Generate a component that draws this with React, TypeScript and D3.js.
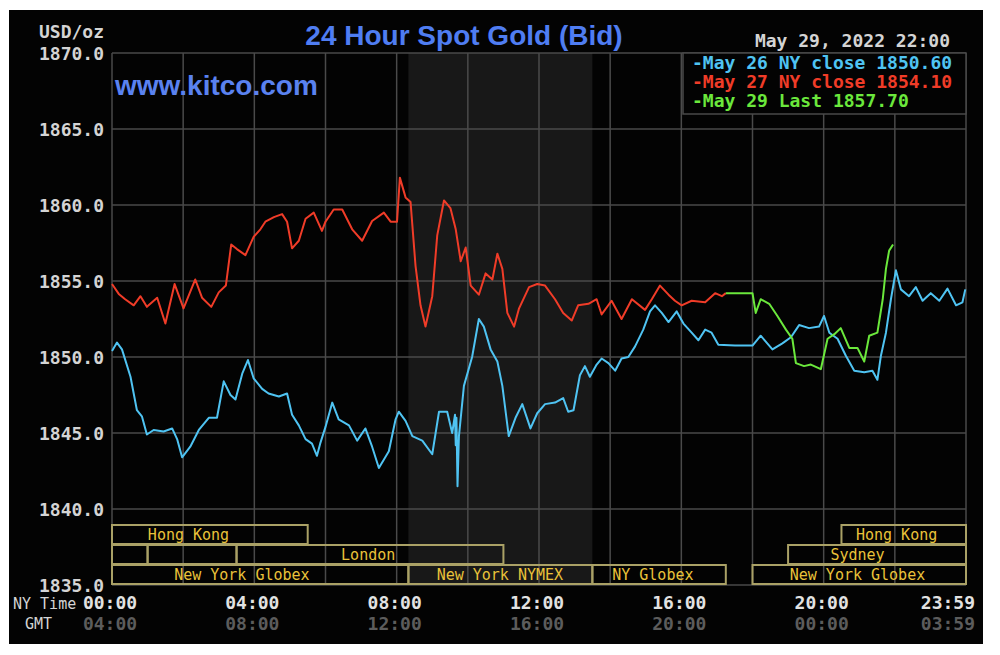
import * as d3 from "d3";

// hour of NY day, bid price
const may26Close: [number, number][] = [
  [0, 1850.4], [0.14, 1850.95], [0.28, 1850.5], [0.52, 1848.7], [0.7, 1846.5], [0.84, 1846.1],
  [0.98, 1844.9], [1.17, 1845.2], [1.45, 1845.1], [1.69, 1845.3], [1.83, 1844.6], [1.97, 1843.4],
  [2.2, 1844.1], [2.44, 1845.2], [2.72, 1846.0], [2.95, 1846.0], [3.14, 1848.4], [3.33, 1847.5],
  [3.47, 1847.2], [3.66, 1848.9], [3.82, 1849.8], [3.98, 1848.6], [4.22, 1847.9], [4.4, 1847.6],
  [4.69, 1847.4], [4.92, 1847.6], [5.06, 1846.2], [5.25, 1845.5], [5.44, 1844.6], [5.62, 1844.3],
  [5.76, 1843.5], [5.85, 1844.3], [6.0, 1845.4], [6.19, 1847.0], [6.37, 1845.9], [6.66, 1845.5],
  [6.89, 1844.5], [7.12, 1845.3], [7.31, 1844.1], [7.5, 1842.7], [7.78, 1843.8], [7.97, 1845.9],
  [8.06, 1846.4], [8.25, 1845.8], [8.44, 1844.8], [8.72, 1844.5], [9.0, 1843.6], [9.19, 1846.4],
  [9.42, 1846.4], [9.56, 1845.0], [9.64, 1846.2], [9.66, 1844.2], [9.68, 1846.0], [9.71, 1841.5],
  [9.75, 1844.8], [9.89, 1848.1], [10.12, 1850.0], [10.31, 1852.5], [10.45, 1852.0], [10.64, 1850.5],
  [10.83, 1849.7], [10.97, 1848.1], [11.15, 1844.8], [11.34, 1846.0], [11.53, 1846.9], [11.76, 1845.3],
  [11.95, 1846.3], [12.17, 1846.9], [12.45, 1847.0], [12.68, 1847.3], [12.82, 1846.4], [12.97, 1846.5],
  [13.15, 1848.8], [13.29, 1849.4], [13.43, 1848.7], [13.62, 1849.5], [13.76, 1849.9], [13.95, 1849.6],
  [14.14, 1849.1], [14.32, 1849.9], [14.51, 1850.0], [14.7, 1850.7], [14.93, 1851.8], [15.12, 1853.0],
  [15.26, 1853.4], [15.45, 1852.9], [15.64, 1852.3], [15.87, 1853.0], [16.06, 1852.2], [16.29, 1851.6],
  [16.48, 1851.1], [16.67, 1851.8], [16.85, 1851.6], [17.04, 1850.8], [17.51, 1850.75], [18.0, 1850.75],
  [18.23, 1851.4], [18.56, 1850.5], [18.84, 1850.9], [19.08, 1851.3], [19.31, 1852.1], [19.59, 1851.9],
  [19.87, 1852.0], [20.01, 1852.7], [20.16, 1851.6], [20.39, 1851.2], [20.62, 1850.1], [20.86, 1849.1],
  [21.14, 1849.0], [21.37, 1849.1], [21.51, 1848.5], [21.61, 1850.1], [21.75, 1851.6], [21.89, 1853.8],
  [22.03, 1855.7], [22.17, 1854.45], [22.4, 1854.0], [22.59, 1854.6], [22.78, 1853.7], [23.01, 1854.2],
  [23.25, 1853.7], [23.48, 1854.5], [23.72, 1853.4], [23.9, 1853.6], [23.98, 1854.45],
];

const may27Close: [number, number][] = [
  [0, 1854.8], [0.19, 1854.15], [0.37, 1853.8], [0.61, 1853.4], [0.8, 1854.0], [0.98, 1853.3],
  [1.27, 1853.9], [1.5, 1852.2], [1.76, 1854.8], [2.01, 1853.2], [2.34, 1855.1], [2.53, 1853.9],
  [2.79, 1853.3], [3.0, 1854.25], [3.2, 1854.7], [3.35, 1857.4], [3.51, 1857.1], [3.75, 1856.7],
  [3.98, 1857.9], [4.17, 1858.4], [4.31, 1858.9], [4.55, 1859.2], [4.78, 1859.4], [4.92, 1858.9],
  [5.06, 1857.15], [5.25, 1857.65], [5.44, 1859.1], [5.67, 1859.5], [5.9, 1858.3], [6.0, 1858.9],
  [6.23, 1859.7], [6.47, 1859.7], [6.75, 1858.4], [7.03, 1857.65], [7.31, 1858.95], [7.64, 1859.5],
  [7.83, 1858.9], [8.01, 1858.9], [8.09, 1861.8], [8.25, 1860.5], [8.39, 1860.2], [8.53, 1856.0],
  [8.67, 1853.4], [8.81, 1852.0], [9.0, 1854.0], [9.14, 1858.0], [9.33, 1860.3], [9.51, 1859.8],
  [9.66, 1858.4], [9.8, 1856.3], [9.94, 1857.2], [10.08, 1854.7], [10.31, 1854.1], [10.5, 1855.5],
  [10.69, 1855.1], [10.83, 1856.8], [10.97, 1855.8], [11.11, 1852.9], [11.3, 1852.0], [11.44, 1853.2],
  [11.72, 1854.6], [11.95, 1854.8], [12.17, 1854.7], [12.45, 1853.8], [12.68, 1852.9], [12.92, 1852.4],
  [13.1, 1853.4], [13.39, 1853.5], [13.62, 1853.8], [13.76, 1852.8], [14.04, 1853.7], [14.32, 1852.5],
  [14.61, 1853.8], [14.98, 1853.1], [15.17, 1853.8], [15.4, 1854.7], [15.64, 1854.1], [15.82, 1853.7],
  [16.01, 1853.4], [16.29, 1853.7], [16.67, 1853.6], [16.95, 1854.2], [17.14, 1854.0], [17.25, 1854.2],
];

const may29Last: [number, number][] = [
  [17.25, 1854.2], [18.0, 1854.2], [18.09, 1852.9], [18.23, 1853.8], [18.47, 1853.5], [18.7, 1852.7],
  [18.94, 1851.8], [19.12, 1851.2], [19.22, 1849.6], [19.45, 1849.4], [19.64, 1849.5], [19.92, 1849.2],
  [20.11, 1851.2], [20.3, 1851.5], [20.48, 1851.9], [20.72, 1850.6], [20.95, 1850.6], [21.14, 1849.7],
  [21.28, 1851.4], [21.51, 1851.6], [21.66, 1853.8], [21.75, 1855.8], [21.84, 1857.0], [21.95, 1857.4],
];

const legendLabels = ["May 26 NY close 1850.60", "May 27 NY close 1854.10", "May 29 Last 1857.70"];
const seriesColors = ["#4fc3f2", "#f03c28", "#6be83c"];

const tickHours = [0, 4, 8, 12, 16, 20, 23.98];
const nyLabels = ["00:00", "04:00", "08:00", "12:00", "16:00", "20:00", "23:59"];
const gmtLabels = ["04:00", "08:00", "12:00", "16:00", "20:00", "00:00", "03:59"];

// market sessions: row, start hour, end hour, label, label centre hour
const sessions: [number, number, number, string, number][] = [
  [0, 0, 5.5, "Hong Kong", 2.15],
  [0, 20.5, 24, "Hong Kong", 22.05],
  [1, 0, 1, "", 0],
  [1, 1, 3.5, "", 0],
  [1, 3.5, 11, "London", 7.2],
  [1, 19, 24, "Sydney", 20.95],
  [2, 0, 8.33, "New York Globex", 3.65],
  [2, 8.33, 13.5, "New York NYMEX", 10.9],
  [2, 13.5, 17.25, "NY Globex", 15.2],
  [2, 18, 24, "New York Globex", 20.95],
];
const nymexWindow = [8.33, 13.5];

const mono = "'DejaVu Sans Mono', monospace";

export default function App() {
  const x = d3.scaleLinear().domain([0, 24]).range([112, 966]);
  const y = d3.scaleLinear().domain([1835, 1870]).range([585, 53]);
  const line = d3
    .line<[number, number]>()
    .x((d) => x(d[0]))
    .y((d) => y(d[1]));
  const series = [may26Close, may27Close, may29Last];
  const rowTop = [525, 545, 565];

  return (
    <svg width={1000} height={655} style={{ position: "absolute", left: 0, top: 0 }}>
      <rect x={0} y={0} width={1000} height={655} fill="#fff" />
      <rect x={9} y={10} width={974} height={634} fill="#030303" />
      <rect
        x={x(nymexWindow[0])}
        y={y(1870)}
        width={x(nymexWindow[1]) - x(nymexWindow[0])}
        height={y(1835) - y(1870)}
        fill="#181818"
      />
      {d3.range(1835, 1871, 5).map((v) => (
        <g key={v}>
          <line x1={x(0)} x2={x(24)} y1={y(v)} y2={y(v)} stroke="#4a4a4a" strokeWidth={1.5} />
          <text x={104} y={y(v) + 6.5} textAnchor="end" fill="#d4d4d4" fontFamily={mono} fontWeight="bold" fontSize={18}>
            {v.toFixed(1)}
          </text>
        </g>
      ))}
      {d3.range(0, 25, 2).map((h) => (
        <line key={h} x1={x(h)} x2={x(h)} y1={y(1870)} y2={y(1835)} stroke="#4a4a4a" strokeWidth={1.5} />
      ))}
      {sessions.map(([row, s, e, name, at], i) => (
        <g key={i}>
          <rect x={x(s)} y={rowTop[row]} width={x(e) - x(s)} height={19} fill="none" stroke="#aaa166" strokeWidth={2} />
          {name && (
            <text x={x(at)} y={rowTop[row] + 15} textAnchor="middle" fill="#eac23a" fontFamily={mono} fontSize={15}>
              {name}
            </text>
          )}
        </g>
      ))}
      {series.map((d, i) => (
        <path key={i} d={line(d) || ""} fill="none" stroke={seriesColors[i]} strokeWidth={2} strokeLinejoin="round" />
      ))}
      <text x={39} y={38} fill="#d4d4d4" fontFamily={mono} fontWeight="bold" fontSize={18}>
        USD/oz
      </text>
      <text x={464} y={45} textAnchor="middle" fill="#4f7df2" fontFamily="'Liberation Sans', Arial, sans-serif" fontWeight="bold" fontSize={28}>
        24 Hour Spot Gold (Bid)
      </text>
      <text x={115} y={95} fill="#5a82f0" fontFamily="'Liberation Sans', Arial, sans-serif" fontWeight="bold" fontSize={28}>
        www.kitco.com
      </text>
      <text x={950} y={47} textAnchor="end" fill="#d4d4d4" fontFamily={mono} fontWeight="bold" fontSize={18}>
        May 29, 2022 22:00
      </text>
      <rect x={683} y={53} width={283} height={61} fill="#030303" stroke="#4a4a4a" strokeWidth={1.5} />
      {legendLabels.map((t, i) => (
        <text key={t} x={692} y={69 + i * 19} fill={seriesColors[i]} fontFamily={mono} fontWeight="bold" fontSize={18}>
          {"-" + t}
        </text>
      ))}
      <text x={13} y={609} fill="#d4d4d4" fontFamily={mono} fontSize={15}>
        NY Time
      </text>
      <text x={25} y={629} fill="#d4d4d4" fontFamily={mono} fontSize={15}>
        GMT
      </text>
      {tickHours.map((h, i) => {
        const last = i === tickHours.length - 1;
        const tx = last ? 975 : x(h) - 2;
        return (
          <g key={h}>
            <text x={tx} y={609} textAnchor={last ? "end" : "middle"} fill="#e2e2e2" fontFamily={mono} fontWeight="bold" fontSize={18}>
              {nyLabels[i]}
            </text>
            <text x={tx} y={630} textAnchor={last ? "end" : "middle"} fill="#5c5c5c" fontFamily={mono} fontWeight="bold" fontSize={18}>
              {gmtLabels[i]}
            </text>
          </g>
        );
      })}
    </svg>
  );
}
